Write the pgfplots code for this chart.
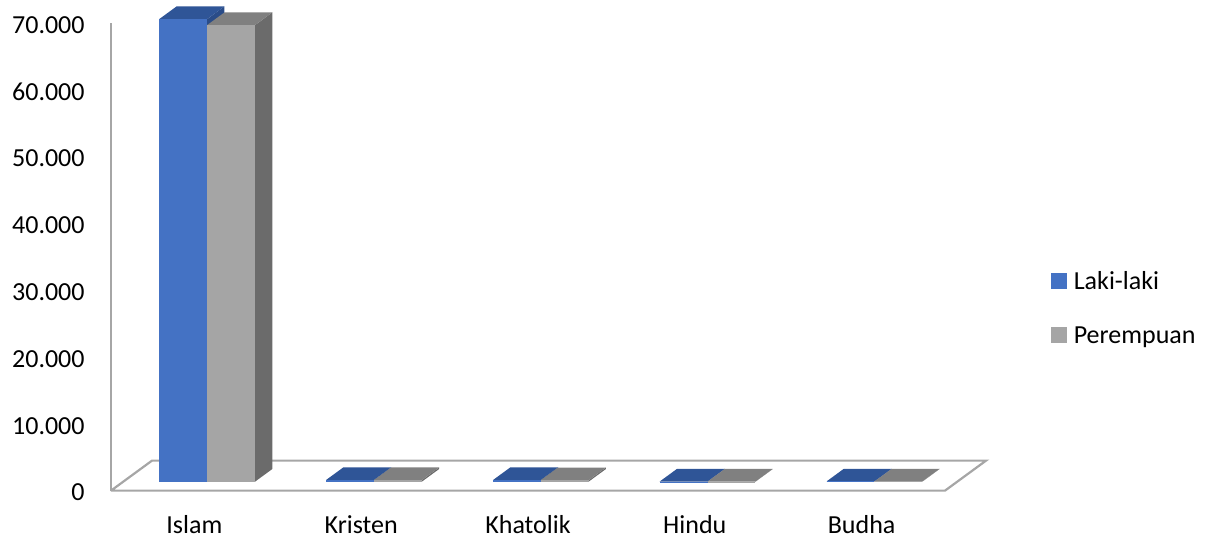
\documentclass[border=0pt]{standalone}
\usepackage{fontspec}
\setmainfont{Carlito}
\usepackage{pgfplots}
\usepackage{pgfplotstable}
\pgfplotsset{compat=1.18}

\definecolor{lakifront}{HTML}{4472C4}
\definecolor{lakitop}{HTML}{2F5597}
\definecolor{lakiside}{HTML}{2A4C88}
\definecolor{perfront}{HTML}{A5A5A5}
\definecolor{pertop}{HTML}{808080}
\definecolor{perside}{HTML}{6B6B6B}
\definecolor{floorgray}{HTML}{A6A6A6}

% jumlah penduduk menurut agama
\pgfplotstableread{
agama    laki   perempuan
Islam    69250  68350
Kristen  250    240
Khatolik 230    220
Hindu    20     15
Budha    30     25
}\agamatable

% one column as a box: x0, x1, height, front, top, side colours
\newcommand\drawbox[6]{%
  \addplot3[fill=#6, draw=none, forget plot] coordinates {(#2,0.3,0) (#2,0.72,0) (#2,0.72,#3) (#2,0.3,#3)};
  \addplot3[fill=#5, draw=none, forget plot] coordinates {(#1,0.3,#3) (#2,0.3,#3) (#2,0.72,#3) (#1,0.72,#3)};
  \addplot3[fill=#4, draw=none, forget plot] coordinates {(#1,0.3,0) (#2,0.3,0) (#2,0.3,#3) (#1,0.3,#3)};
}

\begin{document}
\begin{tikzpicture}[font=\fontsize{13pt}{15.6pt}\selectfont]
\begin{axis}[
    x={(83.4pt,0pt)}, y={(20.5pt,15pt)}, z={(0pt,0.0033357pt)},
    xmin=-0.5, xmax=4.5, ymin=0, ymax=1, zmin=0, zmax=70000,
    enlargelimits=false,
    clip=false,
    axis lines=left,
    axis line style={-},
    x axis line style={draw=none},
    y axis line style={draw=none},
    z axis line style={draw=floorgray, line width=1.1pt},
    tick style={draw=none},
    major tick length=0pt,
    xtick={0,1,2,3,4},
    xticklabels={Islam,Kristen,Khatolik,Hindu,Budha},
    ytick=\empty,
    ztick={0,10000,...,70000},
    scaled z ticks=false,
    /pgf/number format/use comma,
    /pgf/number format/1000 sep={.},
    /pgf/number format/assume math mode=true,
    x tick label style={anchor=base, inner sep=0pt, yshift=-21.5pt},
    z tick label style={anchor=east, inner sep=0pt, xshift=-13pt, yshift=-1pt},
    legend style={at={(axis cs:5.1355,0,27281)}, anchor=west, draw=none, fill=none,
      inner sep=0pt, outer sep=0pt, row sep=15pt,
      nodes={inner sep=0pt, text height=10pt, text depth=2pt}},
    legend cell align=left,
]
  % floor
  \addplot3[draw=floorgray, line width=1.1pt, forget plot]
    coordinates {(-0.5,0,0) (4.5,0,0) (4.5,1,0) (-0.5,1,0) (-0.5,0,0)};

  \pgfplotsforeachungrouped \i in {0,...,4}{%
    \pgfplotstablegetelem{\i}{laki}\of\agamatable \let\hL\pgfplotsretval
    \pgfplotstablegetelem{\i}{perempuan}\of\agamatable \let\hP\pgfplotsretval
    \pgfmathsetmacro\xa{\i-0.284}
    \pgfmathsetmacro\xb{\i+0.003}
    \pgfmathsetmacro\xc{\i+0.29}
    \edef\temp{\noexpand\drawbox{\xa}{\xb}{\hL}{lakifront}{lakitop}{lakiside}%
      \noexpand\drawbox{\xb}{\xc}{\hP}{perfront}{pertop}{perside}}%
    \temp
  }

  \addlegendimage{legend image code/.code={\fill[lakifront] (0pt,-3.75pt) rectangle (7.5pt,3.75pt); \path (11pt,0pt);}}
  \addlegendentry{Laki-laki}
  \addlegendimage{legend image code/.code={\fill[perfront] (0pt,-3.75pt) rectangle (7.5pt,3.75pt); \path (11pt,0pt);}}
  \addlegendentry{Perempuan}

  \coordinate (TL) at (axis cs:-1.16547,0,73447);
  \coordinate (BR) at (axis cs:6.07674,0,-7195);
\end{axis}
\pgfresetboundingbox
\path[use as bounding box] (TL) rectangle (BR);
\end{tikzpicture}
\end{document}
